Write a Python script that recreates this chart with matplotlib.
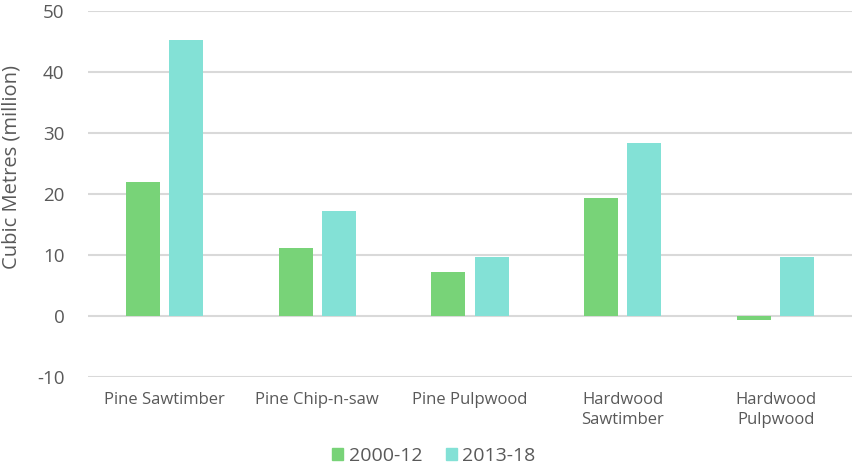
import numpy as np
import matplotlib
matplotlib.use("Agg")
from matplotlib import pyplot as plt
from matplotlib.patches import Patch

categories = ["Pine Sawtimber", "Pine Chip-n-saw", "Pine Pulpwood",
              "Hardwood\nSawtimber", "Hardwood\nPulpwood"]
series_names = ["2000-12", "2013-18"]
vals_2000_12 = [22.0, 11.2, 7.2, 19.3, -0.6]
vals_2013_18 = [45.2, 17.2, 9.7, 28.4, 9.7]

green = "#78D378"
teal = "#83E1D6"
text_col = "#595959"
grid_col = "#D9D9D9"

plt.rcParams["font.family"] = ["Open Sans", "DejaVu Sans"]
plt.rcParams["axes.unicode_minus"] = False

fig = plt.figure(figsize=(8.57, 4.70), dpi=100)
ax = fig.add_axes([88 / 857, 1 - 377 / 470, (852 - 88) / 857, (377 - 11) / 470])

x = np.arange(len(categories))
w = 0.222
off = 0.141
ax.bar(x - off, vals_2000_12, width=w, color=green, zorder=3)
ax.bar(x + off, vals_2013_18, width=w, color=teal, zorder=3)

ax.set_xlim(-0.5, len(categories) - 0.5)
ax.set_ylim(-10, 50)
ax.set_yticks(range(-10, 51, 10))
ax.yaxis.grid(True, color=grid_col, linewidth=1.5, zorder=0)
for s in ax.spines.values():
    s.set_visible(False)
ax.tick_params(axis="both", length=0, colors=text_col)
ax.tick_params(axis="y", labelsize=13.5, pad=17)
ax.set_xticks(x)
ax.set_xticklabels(categories, fontsize=12, va="top", linespacing=1.3)
ax.tick_params(axis="x", pad=11)

fig.text(12 / 857, 1 - 167 / 470, "Cubic Metres (million)", rotation=90,
         ha="center", va="center", fontsize=14.5, color=text_col)

handles = [Patch(color=green), Patch(color=teal)]
fig.legend(handles, series_names, loc="center", bbox_to_anchor=(434 / 857, 1 - 456 / 470),
           ncol=2, frameon=False, fontsize=14, labelcolor=text_col,
           handlelength=0.55, handleheight=0.55, handletextpad=0.3, columnspacing=1.2)

fig.savefig("out.png", dpi=100)
